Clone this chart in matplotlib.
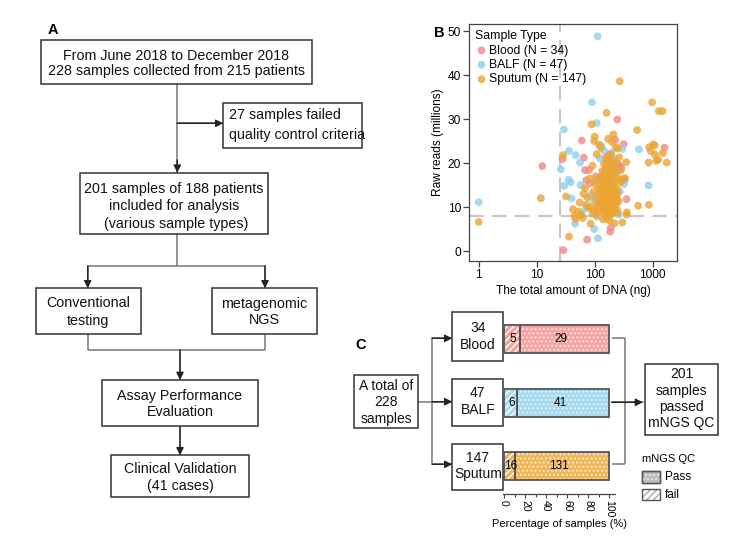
import numpy as np
import matplotlib.pyplot as plt
from matplotlib.patches import Rectangle
from matplotlib.ticker import MultipleLocator, NullLocator

plt.rcParams['font.family'] = ['Liberation Sans', 'DejaVu Sans']
plt.rcParams['hatch.linewidth'] = 1.0

# ---- panel B: DNA amount (ng) vs raw reads (millions)
blood_x = [29, 12.5, 28, 60, 65, 68, 80, 72, 83, 74, 185, 190, 245, 225, 315, 265, 300,
           355, 1600, 123, 140, 170, 210, 290, 255, 160, 200, 135, 230, 180, 105, 150, 330, 210]
blood_y = [0.2, 19.3, 20.9, 25.1, 21.2, 18.4, 18.4, 16.1, 15.4, 2.6, 4.4, 5.3, 29.9, 25.3,
           24.3, 19.4, 16.0, 11.8, 23.5, 16.6, 12.0, 21.8, 18.8, 18.8, 19.6, 12.8, 15.5,
           14.5, 11.2, 17.2, 17.0, 9.2, 16.2, 9.8]

balf_x = [112, 1, 90, 108, 29.5, 36, 47, 56, 26, 35.5, 38.5, 29.8, 57, 40, 145, 123, 580,
          850, 46, 114, 98, 160, 190, 215, 135, 170, 200, 240, 175, 225, 125, 95, 70, 300,
          150, 270, 110, 60, 130, 195, 240, 180, 85, 155, 260, 120, 320]
balf_y = [48.8, 11.1, 33.8, 29.1, 27.6, 22.8, 21.8, 20.1, 18.6, 16.2, 15.6, 14.8, 15.0,
          12.0, 22.8, 21.0, 23.1, 14.9, 6.2, 2.9, 5.0, 16.3, 17.5, 21.0, 15.9, 12.3, 12.6,
          11.8, 8.6, 9.0, 10.6, 11.5, 9.8, 23.2, 18.3, 13.5, 7.8, 8.7, 24.0, 22.3, 17.6,
          14.2, 12.7, 10.3, 8.3, 13.2, 15.2]

sputum_x = [1, 11.8, 28.5, 32, 36, 42, 47, 270, 980, 1280, 1480, 540, 88, 100, 98, 160,
            870, 1020, 1080, 930, 1100, 1250, 1750, 850, 1500, 1150, 560, 860, 350, 355,
            300, 360, 330, 58, 52, 62, 55, 64, 68, 75, 78, 85, 92, 83, 118, 128, 200, 230,
            250, 275, 290, 260, 220, 180, 140, 72, 88, 100, 110, 45,
            150, 155, 160, 165, 170, 148, 158, 162, 168, 172, 175, 178, 180, 185, 190, 145,
            140, 138, 142, 150, 155, 160, 165, 170, 195, 200, 205, 210, 215, 220, 185, 175,
            165, 135, 130, 128, 132, 120, 115, 112, 118, 125, 135, 145, 155, 190, 200, 210,
            225, 235, 245, 250, 240, 230, 240, 250, 195, 185, 180, 190, 205, 215, 220, 160,
            152, 148, 172, 178, 142, 137, 126, 108, 104, 96, 102, 110, 92, 108, 170, 210,
            265, 280, 235, 198, 158, 228, 168]
sputum_y = [6.6, 12.0, 21.8, 12.4, 3.3, 9.5, 7.3, 38.6, 33.8, 31.8, 31.8, 27.5, 28.8, 26.0,
            25.0, 31.4, 23.6, 24.2, 24.0, 22.7, 21.9, 20.8, 20.1, 20.1, 22.3, 20.5, 10.3,
            10.5, 20.2, 8.3, 6.5, 8.8, 16.6, 8.2, 9.0, 7.5, 11.0, 13.0, 14.3, 12.2, 9.8, 6.2,
            8.5, 16.5, 24.2, 23.5, 24.8, 23.6, 23.3, 16.3, 15.9, 11.3, 6.3, 7.0, 7.2, 10.5,
            10.0, 9.0, 8.2, 8.0,
            10.0, 11.0, 10.5, 9.5, 10.2, 9.0, 12.0, 13.0, 14.0, 15.0, 16.0, 17.0, 18.0, 19.0,
            20.0, 13.5, 14.5, 15.5, 16.5, 17.5, 18.5, 19.5, 20.5, 21.5, 14.0, 13.0, 12.0,
            11.0, 10.0, 9.2, 8.2, 7.8, 8.5, 8.8, 9.8, 11.0, 12.2, 10.8, 9.5, 12.5, 14.2,
            16.8, 18.2, 19.8, 21.2, 22.0, 20.5, 19.0, 17.8, 16.5, 15.0, 13.5, 12.3, 10.8,
            9.6, 8.8, 10.5, 11.8, 12.8, 16.8, 17.3, 15.3, 14.0, 15.8, 14.8, 11.8, 11.2, 9.8,
            10.4, 13.0, 14.0, 10.2, 11.8, 13.5, 15.2, 16.0, 19.4, 22.0, 25.5, 26.5, 21.3,
            18.3, 20.0, 8.6, 7.5, 12.8, 17.5]

labels_b = ['Blood (N = 34)', 'BALF (N = 47)', 'Sputum (N = 147)']
colors_b = ['#F08A86', '#8FD0EE', '#EBA534']

# ---- panel C: QC outcome per sample type
types = ['Blood', 'BALF', 'Sputum']
totals = [34, 47, 147]
failed = [5, 6, 16]
passed = [29, 41, 131]
bar_colors = ['#F5A3A0', '#A5DAF0', '#F0B655']

W, H = 741, 536
fig = plt.figure(figsize=(W / 100, H / 100), dpi=100)

# overlay in pixel coordinates for the flow charts
ov = fig.add_axes([0, 0, 1, 1])
ov.set_xlim(0, W)
ov.set_ylim(H, 0)
ov.axis('off')

box_ec = '#333333'
line_c = '#777777'


def box(x0, y0, x1, y1, lines, ys, fs=10.3, ha='center', tx=None):
    ov.add_patch(Rectangle((x0, y0), x1 - x0, y1 - y0, fc='white', ec=box_ec, lw=1.1, zorder=2))
    if tx is None:
        tx = (x0 + x1) / 2
    for s, y in zip(lines, ys):
        ov.text(tx, y, s, ha=ha, va='center', fontsize=fs, color='#111111', zorder=3)


def seg(xs, ys):
    ov.plot(xs, ys, color=line_c, lw=1.1, solid_capstyle='butt', zorder=1)


def arrow(x0, y0, x1, y1):
    ov.annotate('', xy=(x1, y1), xytext=(x0, y0),
                arrowprops=dict(arrowstyle='-|>', color='#2a2020', lw=1.0,
                                mutation_scale=11, shrinkA=0, shrinkB=0), zorder=1)
    ov.plot([x0, x1], [y0, y1], color=line_c, lw=1.1, zorder=0)


# ---------------- panel A ----------------
ov.text(48, 30, 'A', fontsize=10.5, fontweight='bold', va='center', ha='left')
box(40.7, 40, 312, 84, ['From June 2018 to December 2018', '228 samples collected from 215 patients'],
    [55.7, 70.5])
seg([177.3, 177.3], [84, 165])
arrow(177.3, 160, 177.3, 172.7)
arrow(177.3, 123.3, 223.3, 123.3)
box(223.3, 103.3, 362, 147.7, ['27 samples failed', 'quality control criteria'],
    [115, 134.5], ha='left', tx=229.3)
box(80, 172.7, 268.3, 234, ['201 samples of 188 patients', 'included for analysis',
                            ' (various sample types)'], [189, 206.3, 224])
seg([177.3, 177.3], [234, 266])
seg([87.7, 265], [266, 266])
arrow(87.7, 266, 87.7, 288.3)
arrow(265, 266, 265, 288.3)
box(36, 288.3, 140.7, 334.3, ['Conventional', 'testing'], [303.3, 320.5])
box(212.3, 288.3, 316.7, 334.3, ['metagenomic', 'NGS'], [303.8, 320.5])
seg([87.7, 87.7], [334.3, 350])
seg([265, 265], [334.3, 350])
seg([87.7, 265], [350, 350])
arrow(180, 350, 180, 380)
box(101.7, 380, 258.3, 425.7, ['Assay Performance', 'Evaluation'], [396, 412.5])
arrow(180, 425.7, 180, 455.3)
box(110.7, 455.3, 249.3, 496.7, ['Clinical Validation', '(41 cases)'], [469, 486])

# ---------------- panel B ----------------
axb = fig.add_axes([469.3 / W, 1 - 260.7 / H, (676.7 - 469.3) / W, (260.7 - 24) / H])
for xs, ys, c, lab in zip([blood_x, balf_x, sputum_x], [blood_y, balf_y, sputum_y],
                          colors_b, labels_b):
    axb.scatter(xs, ys, s=32, color=c, alpha=0.8, edgecolors='none', label=lab, zorder=3)
axb.axvline(25, color='#CDC3C6', lw=1.5, dashes=(7, 4), zorder=1)
axb.axhline(8, color='#CDC3C6', lw=1.5, dashes=(7, 4), zorder=1)
axb.set_xscale('log')
axb.set_xlim(0.689, 2594)
axb.set_ylim(-2.2, 51.6)
axb.set_xticks([1, 10, 100, 1000])
axb.set_xticklabels(['1', '10', '100', '1000'])
axb.xaxis.set_minor_locator(NullLocator())
axb.set_yticks([0, 10, 20, 30, 40, 50])
axb.tick_params(labelsize=8.6, length=4, width=0.9, color='#444444', pad=2)
for sp in axb.spines.values():
    sp.set_color('#444444')
    sp.set_linewidth(0.9)
axb.set_xlabel('The total amount of DNA (ng)', fontsize=8.6, labelpad=3)
axb.set_ylabel('Raw reads (millions)', fontsize=8.6, labelpad=3)
leg = axb.legend(loc='upper left', frameon=False, title='Sample Type', alignment='left',
                 fontsize=8.8, title_fontsize=8.8, handletextpad=0.1, handlelength=1.0,
                 labelspacing=0.2, borderaxespad=0.15, borderpad=0.35, markerscale=1.0)
for h in leg.legend_handles:
    h.set_alpha(0.8)
fig.text(434 / W, 1 - 33 / H, 'B', fontsize=10.5, fontweight='bold', va='center')

# ---------------- panel C ----------------
ov.text(355, 345, 'C', fontsize=10.5, fontweight='bold', va='center', ha='left')
box(354, 375, 418.3, 427.7, ['A total of', '228', 'samples'], [385.5, 402, 419], fs=10)
seg([418.3, 432.3], [401.7, 401.7])
seg([432.3, 432.3], [338.3, 464.3])
for yy in [338.3, 401.7, 464.3]:
    arrow(432.3, yy, 452.3, yy)
box(452.3, 312, 503.3, 361.3, ['34', 'Blood'], [328.5, 345], fs=10)
box(452.3, 379.3, 503.3, 426, ['47', 'BALF'], [393, 409.5], fs=10)
box(452.3, 444, 503.3, 490, ['147', 'Sputum'], [457.5, 474], fs=10)

axc = fig.add_axes([503.3 / W, 1 - 494 / H, (615 - 503.3) / W, (494 - 312) / H])
axc.patch.set_alpha(0)
ypos = np.arange(len(types))
fail_pct = np.array(failed) / np.array(totals) * 100
pass_pct = 100 - fail_pct
bh = 0.44
axc.barh(ypos, fail_pct, height=bh, color=bar_colors, lw=0)
axc.barh(ypos, fail_pct, height=bh, fc='none', ec='white', hatch='/////', lw=0)
axc.barh(ypos, pass_pct, left=fail_pct, height=bh, color=bar_colors, lw=0)
axc.barh(ypos, pass_pct, left=fail_pct, height=bh, fc='none', ec='#FFFFFFA0', hatch='....', lw=0)
axc.barh(ypos, fail_pct, height=bh, fc='none', ec='#555555', lw=1.3)
axc.barh(ypos, pass_pct, left=fail_pct, height=bh, fc='none', ec='#555555', lw=1.3)
for i in range(len(types)):
    axc.text(fail_pct[i] / 2 + 0.5, ypos[i], str(failed[i]), ha='center', va='center', fontsize=8.5)
    axc.text(fail_pct[i] + pass_pct[i] / 2 - 3, ypos[i], str(passed[i]), ha='center', va='center',
             fontsize=8.5)
axc.set_xlim(-0.7, 105.4)
axc.set_ylim(2.434, -0.428)
axc.set_xticks([0, 20, 40, 60, 80, 100])
axc.xaxis.set_minor_locator(MultipleLocator(10))
axc.tick_params(axis='x', labelsize=7.5, labelrotation=-90, length=3, width=0.8,
                color='#444444', pad=1.5)
axc.tick_params(axis='x', which='minor', length=2, width=0.8, color='#444444')
axc.set_yticks([])
for k in ['left', 'right', 'top']:
    axc.spines[k].set_visible(False)
axc.spines['bottom'].set_color('#444444')
axc.spines['bottom'].set_linewidth(0.9)
axc.set_xlabel('Percentage of samples (%)', fontsize=8, labelpad=1)

seg([611.7, 625], [338.3, 338.3])
seg([611.7, 625], [464.3, 464.3])
seg([625, 625], [338.3, 464.3])
arrow(611.7, 402.3, 643, 402.3)
box(645, 364.3, 718.3, 435, ['201', 'samples', 'passed', 'mNGS QC'],
    [374.5, 391, 407.3, 423.5], fs=10)

# legend of panel C
ov.text(641.7, 459.3, 'mNGS QC', fontsize=8, va='center', ha='left')
ov.add_patch(Rectangle((642.3, 471), 17.7, 12, fc='#BDBDBD', ec='#555555', lw=1.0, zorder=2))
ov.add_patch(Rectangle((642.3, 471), 17.7, 12, fc='none', ec='#FFFFFFA0', hatch='....', lw=0,
                       zorder=3))
ov.add_patch(Rectangle((642.3, 471), 17.7, 12, fc='none', ec='#555555', lw=1.0, zorder=4))
ov.add_patch(Rectangle((642.3, 488.5), 17.7, 11.5, fc='white', ec='#AAAAAA', hatch='/////', lw=0,
                       zorder=2))
ov.add_patch(Rectangle((642.3, 488.5), 17.7, 11.5, fc='none', ec='#555555', lw=1.0, zorder=3))
ov.text(665, 477, 'Pass', fontsize=8.5, va='center', ha='left')
ov.text(665, 494.5, 'fail', fontsize=8.5, va='center', ha='left')

fig.savefig('out.png', dpi=100)
